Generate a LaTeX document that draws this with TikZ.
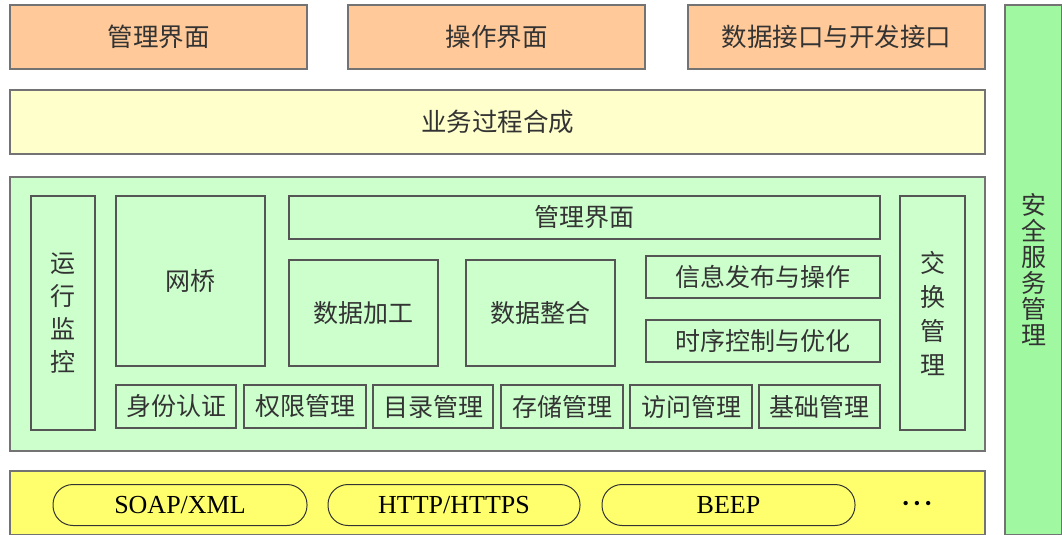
\documentclass[tikz,border=0pt]{standalone}
\usepackage{fontspec}
\setmainfont{Liberation Serif}
\newfontfamily\cjk{Noto Sans CJK SC}
\usetikzlibrary{positioning}
\definecolor{orangefill}{HTML}{FFC999}
\definecolor{lightyellow}{HTML}{FFFFCC}
\definecolor{lightgreen}{HTML}{CCFFCC}
\definecolor{yellowfill}{HTML}{FFFF6E}
\definecolor{greenfill}{HTML}{A0F8A0}
\definecolor{edgegray}{HTML}{555555}
\definecolor{txt}{HTML}{333333}
\tikzset{
  box/.style={draw=edgegray, line width=1.3pt, inner sep=0pt, text=txt, font=\cjk\fontsize{25}{33}\selectfont, align=center},
  outerbox/.style={box, draw=black!55, line width=1.5pt},
  topbox/.style={outerbox, fill=orangefill, minimum height=64pt, minimum width=297pt, font=\cjk\fontsize{25.5}{30}\selectfont},
  inbox/.style={box},
  pill/.style={draw=black!80, line width=1pt, rounded corners=20pt, minimum height=41pt, inner sep=0pt, font=\fontsize{26}{28}\selectfont, text=black},
}
\begin{document}
\begin{tikzpicture}[x=1pt,y=-1pt]
\useasboundingbox (0,0) rectangle (1062,535);
% top row
\node[topbox] (mgmtui) at (158.5,37) {管理界面};
\node[topbox] (opui) at (496.5,37) {操作界面};
\node[topbox] (dataif) at (836.5,37) {数据接口与开发接口};
% business
\node[outerbox, fill=lightyellow, minimum width=975pt, minimum height=64pt, font=\cjk\fontsize{25.5}{30}\selectfont] (biz) at (497.5,122) {业务过程合成};
% green middle
\node[outerbox, fill=lightgreen, minimum width=975pt, minimum height=274pt] (mid) at (497.5,314) {};
\node[inbox, minimum width=64pt, minimum height=234pt] (monitor) at (63,313) {运\\行\\监\\控};
\node[inbox, minimum width=149pt, minimum height=170pt] (bridge) at (190.5,281) {网桥};
\node[inbox, minimum width=591pt, minimum height=43pt] (innerui) at (584.5,217.5) {管理界面};
\node[inbox, minimum width=149pt, minimum height=106pt] (proc) at (363.5,313) {数据加工};
\node[inbox, minimum width=149pt, minimum height=106pt] (integ) at (540.5,313) {数据整合};
\node[inbox, minimum width=234pt, minimum height=42pt] (pub) at (763,277) {信息发布与操作};
\node[inbox, minimum width=234pt, minimum height=42pt] (seq) at (763,341) {时序控制与优化};
\node[inbox, minimum width=65pt, minimum height=234pt, font=\cjk\fontsize{25}{34}\selectfont] (exch) at (932.5,313) {交\\换\\管\\理};
\node[inbox, minimum width=120pt, minimum height=43pt] (auth) at (176,406.5) {身份认证};
\node[inbox, minimum width=122pt, minimum height=43pt] (perm) at (305,406.5) {权限管理};
\node[inbox, minimum width=120pt, minimum height=43pt] (dir) at (433,406.5) {目录管理};
\node[inbox, minimum width=122pt, minimum height=43pt] (store) at (562,406.5) {存储管理};
\node[inbox, minimum width=122pt, minimum height=43pt] (access) at (691,406.5) {访问管理};
\node[inbox, minimum width=121pt, minimum height=43pt] (base) at (819.5,406.5) {基础管理};
% yellow protocol band
\node[outerbox, fill=yellowfill, minimum width=975pt, minimum height=64pt] (proto) at (497.5,503) {};
\node[pill, minimum width=254pt] (soap) at (180,505) {SOAP/XML};
\node[pill, minimum width=252pt] (http) at (454,505) {HTTP/HTTPS};
\node[pill, minimum width=253pt] (beep) at (728.5,505) {BEEP};
\node[font=\fontsize{18}{20}\selectfont, text=black, inner sep=0pt] (dots) at (917,505) {\textbullet\hspace{5pt}\textbullet\hspace{5pt}\textbullet};
% right column
\node[box, draw=black!55, fill=greenfill, minimum width=57pt, minimum height=530pt, font=\cjk\fontsize{25}{26}\selectfont] (sec) at (1033.5,270) {安\\全\\服\\务\\管\\理};
\end{tikzpicture}
\end{document}
